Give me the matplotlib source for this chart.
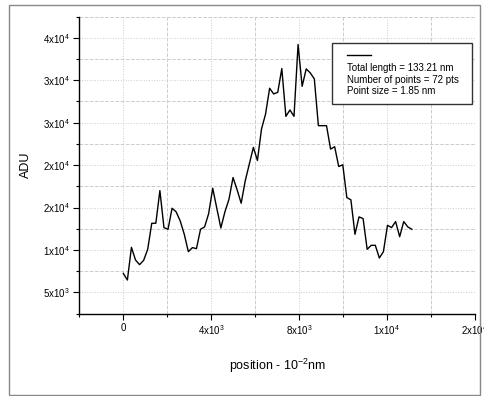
import numpy as np
import matplotlib
matplotlib.use('Agg')
import matplotlib.pyplot as plt
from matplotlib.patches import Rectangle
from matplotlib.lines import Line2D
from matplotlib.ticker import MultipleLocator

plt.rcParams['font.family'] = ['Liberation Sans', 'DejaVu Sans']
plt.rcParams['mathtext.fontset'] = 'custom'
plt.rcParams['mathtext.rm'] = 'Liberation Sans'
plt.rcParams['mathtext.default'] = 'regular'

# profile data (position in 10^-2 nm, step = 185)
step = 185
adu = [7240, 6460, 10310, 8820, 8270, 8780, 10080, 13150, 13150, 17000,
       12640, 12440, 14920, 14490, 13430, 11850, 9800, 10280, 10160, 12440,
       12720, 14290, 17280, 14920, 12600, 14490, 15980, 18540, 17090, 15510,
       18150, 20120, 22090, 20550, 24250, 26020, 29060, 28390, 28580, 31380,
       25750, 26500, 25750, 34210, 29290, 31340, 30870, 30160, 24650, 24650,
       24650, 21890, 22170, 19840, 20040, 16180, 15910, 11850, 13900, 13700,
       10080, 10550, 10550, 9060, 9800, 12910, 12640, 13350, 11570, 13350,
       12720, 12440]
position = [i * step for i in range(len(adu))]

x_ticks = [0, 4000, 8000, 12000, 16000]
x_tick_labels = ['0', '4x10$^3$', '8x10$^3$', '1x10$^4$', '2x10$^4$']
y_ticks = [5000, 10000, 15000, 20000, 25000, 30000, 35000]
y_tick_labels = ['5x10$^3$', '1x10$^4$', '2x10$^4$', '2x10$^4$',
                 '3x10$^4$', '3x10$^4$', '4x10$^4$']

info_lines = ['Total length = 133.21 nm',
              'Number of points = 72 pts',
              'Point size = 1.85 nm']

fig = plt.figure(figsize=(4.84, 3.96), dpi=100)
ax = fig.add_axes([0.164, 0.208, 0.817, 0.75])

ax.plot(position, adu, color='black', lw=1.0)

ax.set_xlim(-2000, 16000)
ax.set_ylim(2500, 37500)
ax.set_xticks(x_ticks)
ax.set_xticklabels(x_tick_labels)
ax.set_yticks(y_ticks)
ax.set_yticklabels(y_tick_labels)
ax.xaxis.set_minor_locator(MultipleLocator(2000))
ax.yaxis.set_minor_locator(MultipleLocator(2500))

ax.grid(which='major', color='#cccccc', ls=':', lw=0.7)
ax.grid(which='minor', color='#cccccc', ls='--', lw=0.7)
ax.set_axisbelow(True)

for s in ['top', 'right']:
    ax.spines[s].set_visible(False)
for s in ['left', 'bottom']:
    ax.spines[s].set_linewidth(1.0)

ax.tick_params(which='major', direction='out', length=4, width=0.8,
               labelsize=7, pad=3)
ax.tick_params(which='minor', direction='out', length=2.5, width=0.8)

ax.set_xlabel('position - 10$^{-2}$nm', fontsize=9, labelpad=14)
ax.set_ylabel('ADU', fontsize=9, labelpad=8)

# info box
ax.add_patch(Rectangle((0.639, 0.706), 0.354, 0.205, transform=ax.transAxes,
                       facecolor='white', edgecolor='#333333', lw=1.0,
                       zorder=5))
ax.add_line(Line2D([0.676, 0.737], [0.871, 0.871], transform=ax.transAxes,
                   color='black', lw=1.0, zorder=6))
for k, txt in enumerate(info_lines):
    ax.text(0.676, 0.828 - k * 0.04, txt, transform=ax.transAxes,
            fontsize=7, va='center', ha='left', zorder=6)

# outer frame
fig.add_artist(Rectangle((0.0186, 0.0025), 0.973, 0.985,
                         transform=fig.transFigure, fill=False,
                         edgecolor='#888888', lw=1.0))

fig.savefig('out.png', dpi=100)
